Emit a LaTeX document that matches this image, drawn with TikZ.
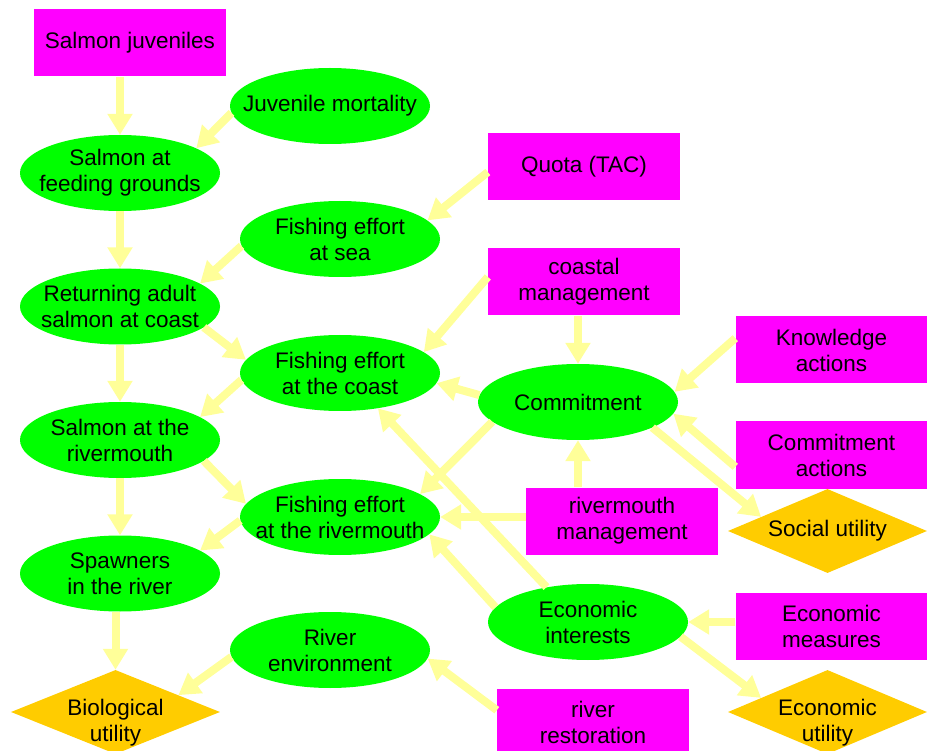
\documentclass[tikz,border=0pt]{standalone}
\usepackage{fontspec}
\setmainfont{Liberation Sans}
\usetikzlibrary{shapes.geometric,arrows.meta}
\definecolor{boxpink}{RGB}{255,0,255}
\definecolor{ovalgreen}{RGB}{0,255,0}
\definecolor{utilgold}{RGB}{255,204,0}
\definecolor{arrowyellow}{RGB}{255,255,153}
% two lines set a little below the middle of a diamond
\newcommand{\lowtext}[1]{\raisebox{-16pt}[20pt][20pt]{\begin{tabular}{@{}c@{}}#1\end{tabular}}}
\begin{document}
\begin{tikzpicture}[x=1pt, y=-1pt, node distance = 133.5pt,
	var/.style = {ellipse, fill=ovalgreen, minimum width=200pt, minimum height=76pt, inner xsep=-25pt, inner ysep=0pt, align=center, font=\fontsize{22.5}{26}\selectfont},
	act/.style = {rectangle, fill=boxpink, minimum width=192pt, minimum height=67pt, align=center, font=\fontsize{22.5}{26}\selectfont},
	util/.style = {diamond, fill=utilgold, minimum width=199pt, minimum height=84pt, aspect=2.37, inner sep=-6pt, align=center, font=\fontsize{22.5}{26}\selectfont},
	link/.style = {draw=arrowyellow, line width=8pt, -{Triangle[length=21pt,width=24pt]}}]
	\useasboundingbox (0,0) rectangle (927,751);
	\node[act] (sj) at (130,43) {Salmon juveniles};
	\node[var] (jm) at (330,106) {Juvenile mortality};
	\node[var] (sfg) at (120,173) {Salmon at\\feeding grounds};
	\node[var] (fes) at (340,239) {Fishing effort\\at sea};
	\node[act] (qt) at (584,167) {Quota (TAC)};
	\node[var, below of = sfg] (ra) {Returning adult\\salmon at coast};
	\node[act] (cm) at (584,282) {coastal\\management};
	\node[var] (fec) at (340,373) {Fishing effort\\at the coast};
	\node[act] (ka) at (831.5,350) {Knowledge\\actions};
	\node[var] (com) at (578,402) {Commitment};
	\node[var, below of = ra] (sr) {Salmon at the\\rivermouth};
	\node[act] (ca) at (831.5,455) {Commitment\\actions};
	\node[act] (rm) at (622,521) {rivermouth\\management};
	\node[var] (fer) at (340,517) {Fishing effort\\at the rivermouth};
	\node[util] (su) at (827.5,531) {Social utility};
	\node[var, below of = sr] (sp) {Spawners\\in the river};
	\node[var] (ei) at (588,622) {Economic\\interests};
	\node[act] (em) at (831.5,626) {Economic\\measures};
	\node[var] (re) at (330,650) {River\\environment};
	\node[util, minimum width=209pt] (bu) at (115.5,712) {\lowtext{Biological\\utility}};
	\node[act] (rr) at (593,722) {river\\restoration};
	\node[util] (eu) at (827.5,712) {\lowtext{Economic\\utility}};
	\draw[link] (sj.south -| sfg.north) -- (sfg.north);
	\draw[link] (jm.184) -- (sfg.18);
	\draw[link] (sfg) -- (ra);
	\draw[link] (fes.184) -- (ra.16);
	\draw[link] (qt.183) -- (fes.12);
	\draw[link] (ra.-14) -- (fec.172);
	\draw[link] (cm.177) -- (fec.14);
	\draw[link] (cm.south -| com.north) -- (com.north);
	\draw[link] (ra) -- (sr);
	\draw[link] (fec.184) -- (sr.16);
	\draw[link] (com.176) -- (fec.-6);
	\draw[link] (ka.173) -- (com.6);
	\draw[link] (ca.187) -- (com.-7);
	\draw[link] (com.-19) -- (su.168);
	\draw[link] (com.193) -- (fer.16);
	\draw[link] (ei.140) -- (fec.-43);
	\draw[link] (rm.north -| com.south) -- (com.south);
	\draw[link] (rm.west |- fer.east) -- (fer.east);
	\draw[link] (sr.-14) -- (fer.172);
	\draw[link] (fer.182) -- (sp.16);
	\draw[link] (ei.171) -- (fer.-11);
	\draw[link] (sr) -- (sp);
	\draw[link] (sp.south -| bu.north) -- (bu.north);
	\draw[link] (re.184) -- (bu.15);
	\draw[link] (rr.173) -- (re.-5);
	\draw[link] (em.west |- ei.east) -- (ei.east);
	\draw[link] (ei.-9) -- (eu.168);
\end{tikzpicture}
\end{document}
